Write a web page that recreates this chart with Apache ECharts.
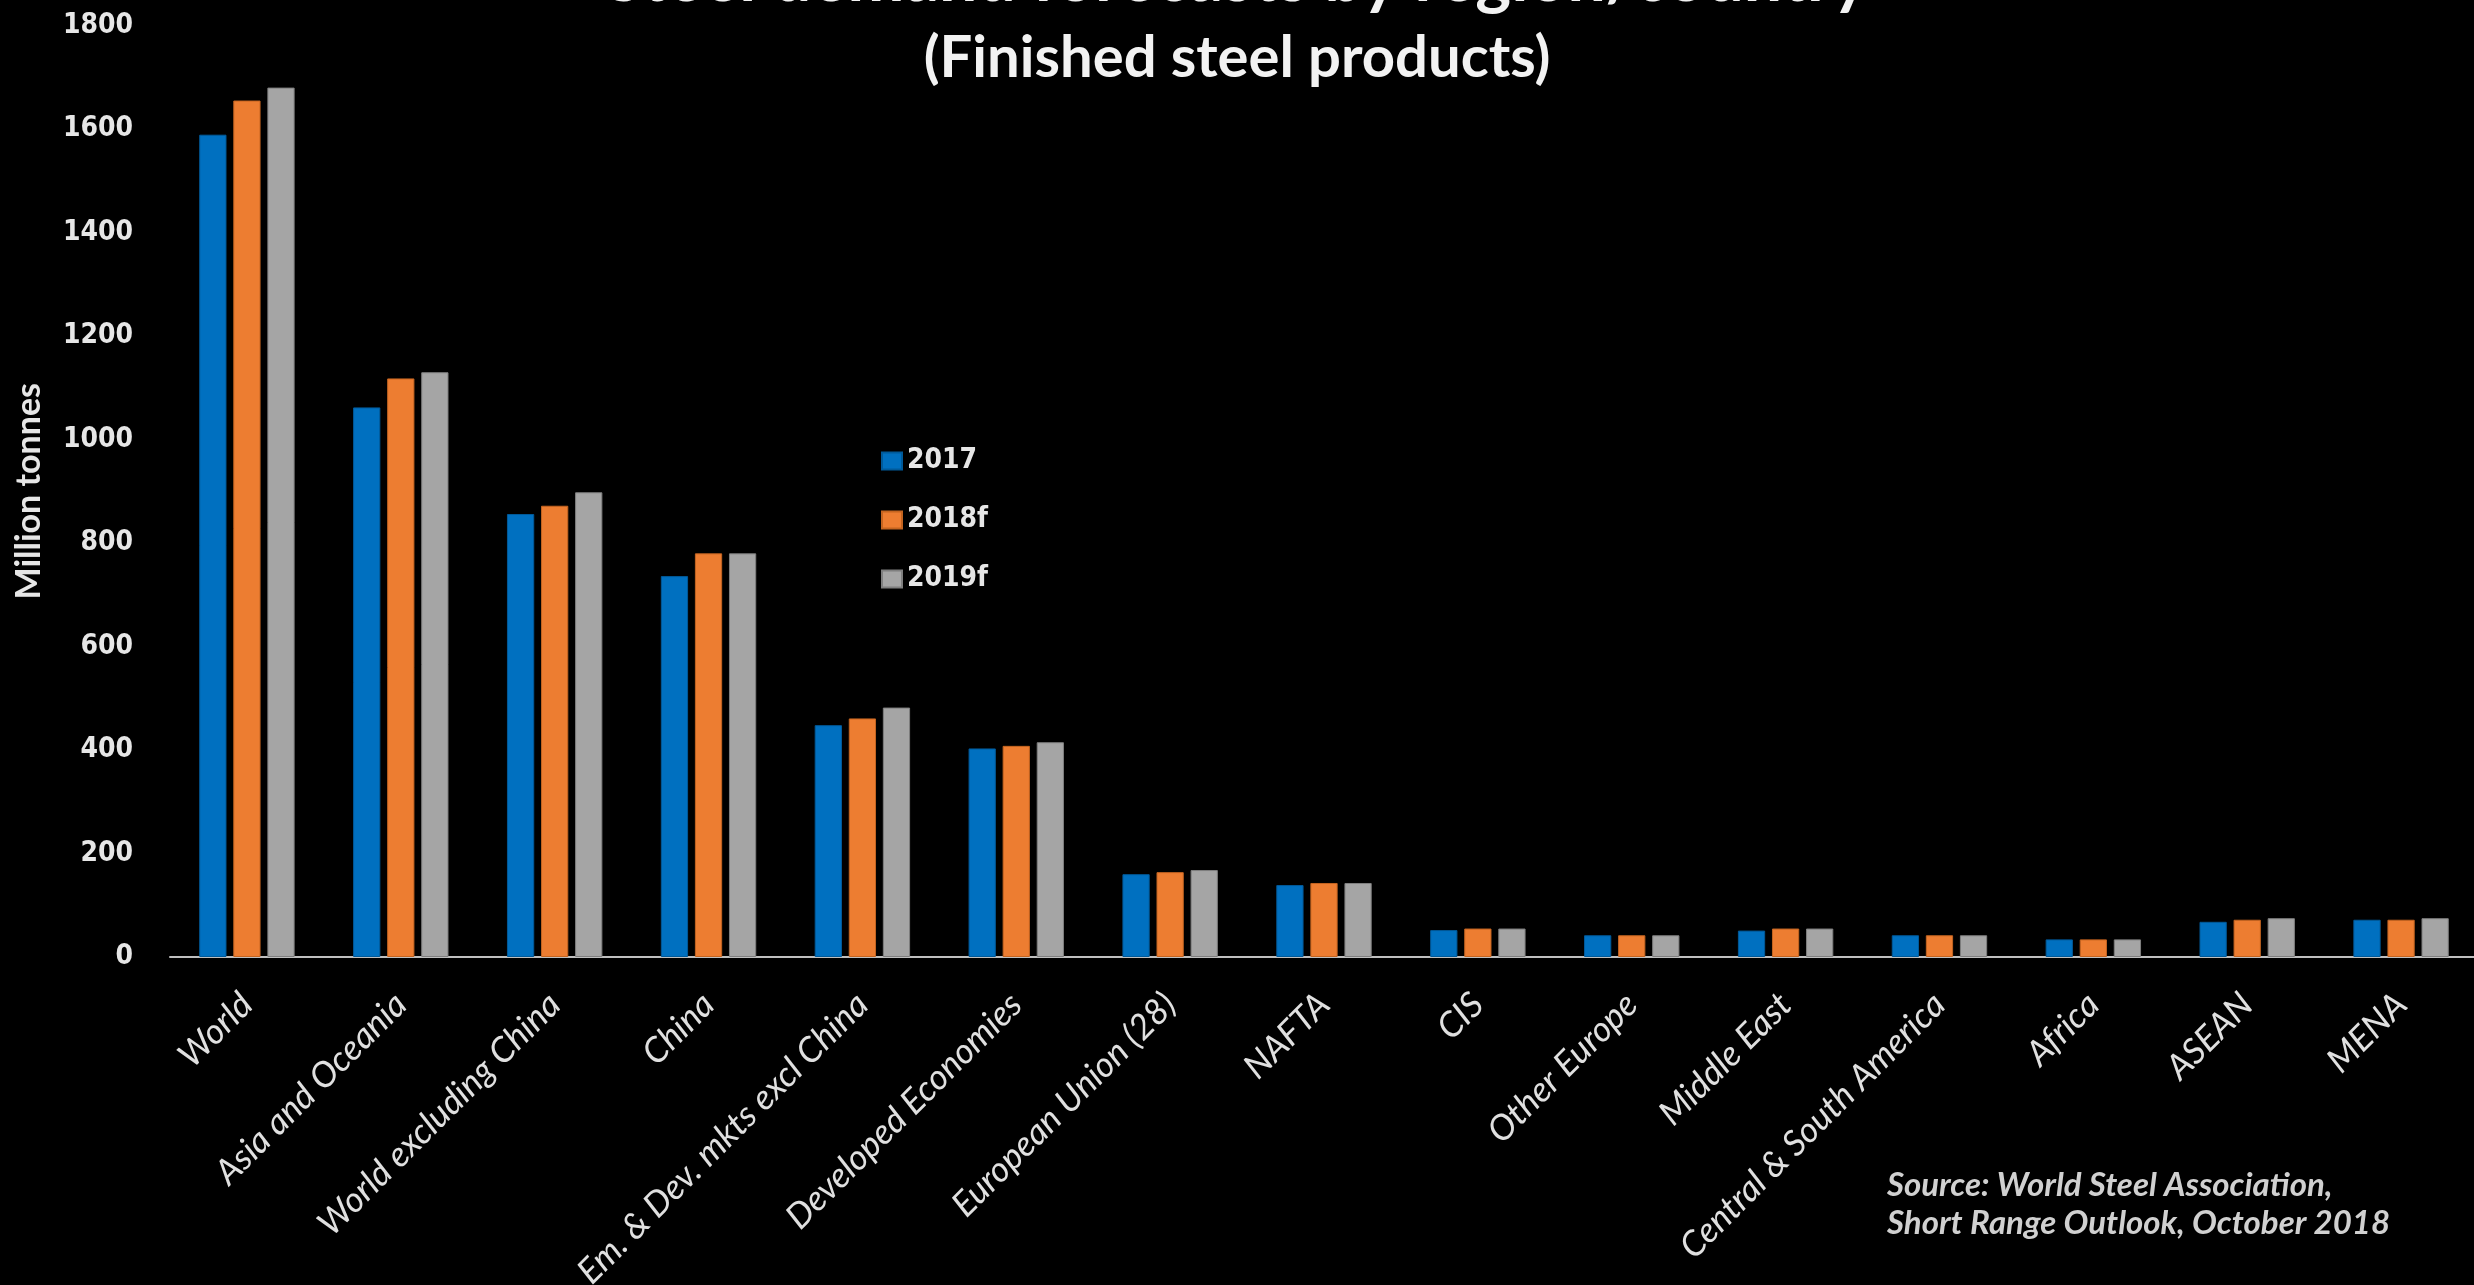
<!DOCTYPE html>
<html>
<head>
<meta charset="utf-8">
<title>Steel demand forecasts</title>
<script src="https://cdn.jsdelivr.net/npm/echarts/dist/echarts.min.js"></script>
<style>
  html, body { margin: 0; padding: 0; background: #000; }
  #chart { width: 2474px; height: 1285px; }
</style>
</head>
<body>
<div id="chart"></div>
<script>
// categories and values (million tonnes, finished steel products)
const regions = [
  'World', 'Asia and Oceania', 'World excluding China', 'China',
  'Em. & Dev. mkts excl China', 'Developed Economies', 'European Union (28)',
  'NAFTA', 'CIS', 'Other Europe', 'Middle East', 'Central & South America',
  'Africa', 'ASEAN', 'MENA'
];
const years = ['2017', '2018f', '2019f'];
const demand2017 = [1589, 1062, 856, 736, 448, 403, 160, 139, 52, 42, 51, 42, 34, 68, 72];
const demand2018 = [1655, 1118, 872, 780, 461, 408, 164, 143, 55, 42, 55, 42, 34, 72, 72];
const demand2019 = [1680, 1130, 898, 780, 482, 415, 168, 143, 55, 42, 55, 42, 34, 75, 75];
const yTicks = { min: 0, max: 1800, step: 200 };

const chart = echarts.init(document.getElementById('chart'));

const numFont = "'DejaVu Sans Condensed', 'DejaVu Sans', sans-serif";
const textFont = "Lato, 'Open Sans', sans-serif";

function barSeries(name, data, color, border) {
  return {
    name: name,
    type: 'bar',
    data: data,
    barGap: '25%',
    barCategoryGap: '38%',
    itemStyle: { color: color, borderColor: border, borderWidth: 1 }
  };
}

const option = {
  backgroundColor: '#000000',
  animation: false,
  title: [
    {
      text: 'Steel demand forecasts by region/country',
      left: 'center',
      top: -60,
      textStyle: { color: '#f2f2f2', fontFamily: textFont, fontWeight: 'bold', fontSize: 68 }
    },
    {
      text: '(Finished steel products)',
      left: 'center',
      top: 24,
      textStyle: { color: '#f2f2f2', fontFamily: textFont, fontWeight: 'bold', fontSize: 58 }
    }
  ],
  legend: {
    data: years,
    orient: 'vertical',
    left: 876,
    top: 442,
    itemWidth: 20,
    itemHeight: 17,
    itemGap: 31,
    icon: 'rect',
    textStyle: { color: '#e6e6e6', fontFamily: numFont, fontWeight: 'bold', fontSize: 28 }
  },
  grid: {
    left: 170, top: 25.5, width: 2308, bottom: 328,
    containLabel: false, outerBoundsMode: 'none'
  },
  xAxis: {
    type: 'category',
    data: regions,
    axisLine: { lineStyle: { color: '#bfbfbf', width: 2 } },
    axisTick: { show: false },
    axisLabel: {
      interval: 0,
      rotate: 45,
      margin: 42,
      color: '#e0e0e0',
      fontStyle: 'italic',
      fontFamily: textFont,
      fontSize: 35
    }
  },
  yAxis: {
    type: 'value',
    min: yTicks.min,
    max: yTicks.max,
    interval: yTicks.step,
    name: 'Million tonnes',
    nameLocation: 'middle',
    nameRotate: 90,
    nameGap: 124,
    nameTextStyle: { color: '#e6e6e6', fontFamily: textFont, fontWeight: 'bold', fontSize: 34 },
    axisLine: { show: false },
    axisTick: { show: false },
    splitLine: { show: false },
    axisLabel: {
      margin: 37,
      color: '#e6e6e6',
      fontFamily: numFont,
      fontWeight: 'bold',
      fontSize: 28,
      formatter: function (v) { return String(v); }
    }
  },
  graphic: [
    {
      type: 'text',
      left: 1887,
      top: 1166,
      style: {
        text: 'Source: World Steel Association,\nShort Range Outlook, October 2018',
        fill: '#d0d0d0',
        font: "italic bold 33px Lato, 'Open Sans', sans-serif",
        lineHeight: 38
      }
    }
  ],
  series: [
    barSeries(years[0], demand2017, '#0070c0', '#005a9a'),
    barSeries(years[1], demand2018, '#ed7d31', '#c46420'),
    barSeries(years[2], demand2019, '#a5a5a5', '#7f7f7f')
  ]
};

chart.setOption(option);
</script>
</body>
</html>
